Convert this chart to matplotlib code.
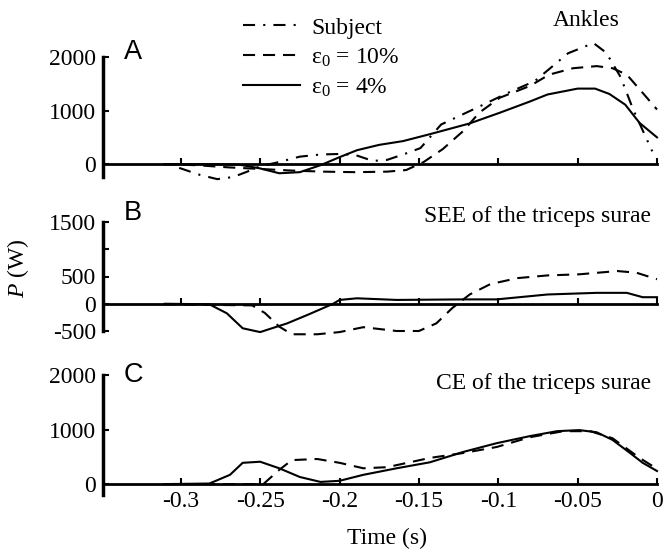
import matplotlib
matplotlib.use('Agg')
import matplotlib.pyplot as plt

plt.rcParams['font.family'] = ['Liberation Serif', 'DejaVu Serif']
plt.rcParams['mathtext.fontset'] = 'custom'
plt.rcParams['mathtext.rm'] = 'Liberation Serif'
plt.rcParams['mathtext.it'] = 'Liberation Serif:italic'
plt.rcParams['axes.unicode_minus'] = False

# --- data ---
xticks = [-0.3, -0.25, -0.2, -0.15, -0.1, -0.05, 0]
xtick_labels = ['-0.3', '-0.25', '-0.2', '-0.15', '-0.1', '-0.05', '0']

# A: ankles
subj_t = [-0.301, -0.288, -0.277, -0.267, -0.259, -0.25, -0.238, -0.225, -0.212, -0.2,
          -0.19, -0.179, -0.17, -0.159, -0.149, -0.136, -0.113, -0.094, -0.077, -0.056,
          -0.04, -0.032, -0.023, -0.015, -0.003]
subj_A = [-70, -200, -280, -240, -150, -40, 40, 140, 180, 190,
          170, 60, 80, 190, 300, 740, 1060, 1330, 1550, 2070,
          2260, 2080, 1630, 1020, 240]
e10_tA = [-0.311, -0.29, -0.27, -0.25, -0.23, -0.21, -0.19, -0.17, -0.158, -0.147,
          -0.135, -0.122, -0.112, -0.099, -0.08, -0.068, -0.053, -0.038, -0.028, -0.019,
          -0.009, 0]
e10_A = [0, -20, -60, -90, -120, -140, -150, -140, -110, 40,
         280, 620, 960, 1240, 1460, 1670, 1790, 1830, 1790, 1670,
         1330, 1020]
e4_tA = [-0.31, -0.28, -0.263, -0.25, -0.238, -0.225, -0.212, -0.2, -0.189, -0.175,
         -0.16, -0.143, -0.118, -0.099, -0.08, -0.069, -0.05, -0.039, -0.03, -0.02,
         -0.011, 0]
e4_A = [0, 0, -10, -80, -170, -150, -20, 130, 260, 360,
        430, 560, 760, 960, 1170, 1300, 1410, 1410, 1310, 1110,
        770, 500]

# B: SEE of the triceps surae
e10_tB = [-0.311, -0.255, -0.247, -0.238, -0.23, -0.214, -0.2, -0.185, -0.164, -0.15,
          -0.139, -0.129, -0.118, -0.105, -0.088, -0.069, -0.049, -0.025, -0.013, 0]
e10_B = [-10, -30, -170, -420, -560, -560, -520, -430, -500, -500,
         -360, -80, 170, 360, 470, 520, 540, 600, 570, 450]
e4_tB = [-0.31, -0.282, -0.271, -0.261, -0.25, -0.233, -0.219, -0.204, -0.2, -0.189,
         -0.164, -0.122, -0.101, -0.069, -0.038, -0.019, -0.009, 0]
e4_B = [0, -10, -175, -450, -520, -360, -190, 0, 70, 100,
        70, 80, 80, 170, 200, 200, 120, 120]

# C: CE of the triceps surae
e10_tC = [-0.311, -0.255, -0.248, -0.238, -0.23, -0.214, -0.2, -0.185, -0.17, -0.143,
          -0.122, -0.101, -0.08, -0.059, -0.042, -0.028, -0.011, 0]
e10_C = [0, 0, 0, 260, 440, 460, 390, 290, 310, 480,
         570, 680, 860, 970, 970, 840, 480, 280]
e4_tC = [-0.31, -0.282, -0.269, -0.261, -0.25, -0.238, -0.225, -0.212, -0.2, -0.185,
         -0.164, -0.143, -0.122, -0.101, -0.08, -0.063, -0.049, -0.038, -0.028, -0.017,
         -0.009, 0]
e4_C = [0, 10, 170, 390, 410, 290, 130, 40, 60, 170,
        290, 400, 590, 750, 880, 970, 990, 950, 810, 570,
        390, 240]

W, H = 665, 550
fig = plt.figure(figsize=(W / 100, H / 100), dpi=100)

dashdot = (0, (5.8, 3.9, 1, 3.9))
dashed = (0, (5.8, 3.8))
lw = 1.5


def panel(top, bottom, ylim, yticks, ylabels, show_x):
    ax = fig.add_axes([103 / W, 1 - bottom / H, 554 / W, (bottom - top) / H])
    ax.set_xlim(-0.349, 0)
    ax.set_ylim(*ylim)
    ax.patch.set_visible(False)
    for s in ['top', 'right']:
        ax.spines[s].set_visible(False)
    ax.spines['bottom'].set_position(('data', 0))
    ax.spines['bottom'].set_linewidth(2)
    ax.spines['left'].set_linewidth(2.5)
    ax.set_xticks(xticks)
    ax.set_xticklabels(xtick_labels if show_x else [''] * len(xticks))
    ax.set_yticks(yticks)
    ax.set_yticklabels(ylabels)
    ax.tick_params(axis='x', direction='in', length=4, width=1.5, pad=5, labelsize=17)
    ax.tick_params(axis='y', direction='in', length=4, width=1.5, pad=5, labelsize=17)
    return ax


axA = panel(57, 177, (-240, 2000), [0, 1000, 2000], ['0', '1000', '2000'], False)
axA.plot(subj_t, subj_A, color='k', lw=lw, ls=dashdot, clip_on=False, label='Subject')
axA.plot(e10_tA, e10_A, color='k', lw=lw, ls=dashed, clip_on=False, label='ε$_0$ = 10%')
axA.plot(e4_tA, e4_A, color='k', lw=lw, clip_on=False, label='ε$_0$ = 4%')
axA.legend(loc='upper left', bbox_to_anchor=(243 / W, 1 - 17 / H),
           bbox_transform=fig.transFigure, frameon=False, fontsize=17,
           borderpad=0, borderaxespad=0, handlelength=2.4, handletextpad=0.5,
           labelspacing=0.33)

axB = panel(222, 331, (-500, 1500), [-500, 0, 500, 1000, 1500],
            ['-500', '0', '500', '', '1500'], False)
axB.plot(e10_tB, e10_B, color='k', lw=lw, ls=dashed, clip_on=False)
axB.plot(e4_tB, e4_B, color='k', lw=lw, clip_on=False)

axC = panel(375, 495, (-200, 2000), [0, 1000, 2000], ['0', '1000', '2000'], True)
axC.plot(e10_tC, e10_C, color='k', lw=lw, ls=dashed, clip_on=False)
axC.plot(e4_tC, e4_C, color='k', lw=lw, clip_on=False)

# panel letters and titles
for letter, y in [('A', 52), ('B', 213), ('C', 375)]:
    fig.text(124 / W, 1 - y / H, letter, family='Liberation Sans', fontsize=19.5,
             va='center', ha='left')
fig.text(586 / W, 1 - 26 / H, 'Ankles', fontsize=17, ha='center', va='baseline')
fig.text(651 / W, 1 - 222 / H, 'SEE of the triceps surae', fontsize=17,
         ha='right', va='baseline')
fig.text(651 / W, 1 - 389 / H, 'CE of the triceps surae', fontsize=17,
         ha='right', va='baseline')

fig.text(18 / W, 1 - 268 / H, '$P$ (W)', fontsize=17, rotation=90,
         ha='center', va='center')
fig.text(387 / W, 1 - 538 / H, 'Time (s)', fontsize=17, ha='center', va='center')

fig.savefig('out.png', dpi=100)
